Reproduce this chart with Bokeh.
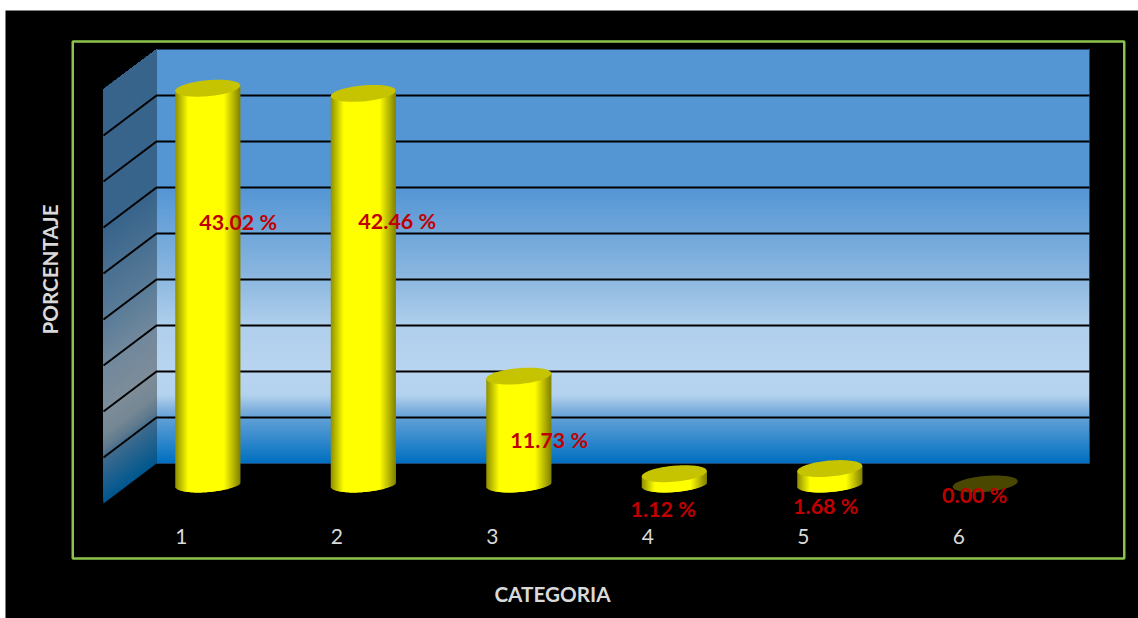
import numpy as np
from bokeh.embed import file_html
from bokeh.models import FixedTicker, LinearAxis, Range1d
from bokeh.plotting import figure
from bokeh.resources import INLINE

categories = [1, 2, 3, 4, 5, 6]
percentages = [43.02, 42.46, 11.73, 1.12, 1.68, 0.00]
wall_ticks = [5, 10, 15, 20, 25, 30, 35, 40]
wall_top = 45

x_title = "CATEGORIA"
y_title = "PORCENTAJE"

# Pixel scale of the projection and the oblique depth of the floor
PX_PER_CAT = 155.5
PX_PER_PCT = 9.2
DEPTH_X = 53 / PX_PER_CAT
DEPTH_Y = 40 / PX_PER_PCT
FLOOR_LEFT, FLOOR_RIGHT = 0.5, 6.5

# Cylinder shape, in pixels: half width, ellipse half height, shear of the ellipse
CYL_A, CYL_B, CYL_SHEAR = 32.5, 8.0, 0.085

# Label offsets from the top centre of each cylinder, in pixels
label_dx = [30.5, 34, 30.5, -11, -4, -10.5]
label_dy = [134, 128, 64.4, 35, 37.5, 10.5]

# Colour ramps, by height on the wall measured in percent
wall_stops = [0, 4.7, 5.8, 7.4, 9.9, 14.9, 19.9, 29.7, 45]
wall_ramp = ["#0070C0", "#5E9ED6", "#80B0DD", "#B4D2EE", "#B8D4F0", "#B0CFEC", "#8DB8E0", "#5596D4", "#5596D4"]
side_ramp = ["#00588F", "#3E6B8E", "#5F7A8E", "#768894", "#7E8D9A", "#72899D", "#5A7C98", "#39658C", "#39658C"]

# Body shading across a cylinder, from -1 (left edge) to +1 (right edge)
body_stops = [-1, -0.6, 0.5, 1]
body_ramp = ["#8F8F00", "#FFFF00", "#FFFF00", "#808000"]


def rgb(hex_code):
    return np.array([int(hex_code[i:i + 2], 16) for i in (1, 3, 5)], dtype=float)


def ramp(pos, stops, colours):
    table = np.array([rgb(c) for c in colours])
    channels = [int(round(np.interp(pos, stops, table[:, k]))) for k in range(3)]
    return "#%02X%02X%02X" % tuple(channels)


def page_x(px):
    return 1 + (px - 181) / PX_PER_CAT


def page_y(py):
    return (503 - py) / PX_PER_PCT


p = figure(
    width=1138, height=618,
    x_range=Range1d(page_x(5.25), page_x(1138.25)),
    y_range=Range1d(page_y(618), page_y(10)),
    output_backend="svg", toolbar_location=None,
    x_axis_type=None, y_axis_type=None,
    min_border_left=5, min_border_top=10, min_border_right=0, min_border_bottom=0,
    background_fill_color="#000000", border_fill_color="#FFFFFF",
)
p.outline_line_color = None
p.grid.visible = False

# Chart area border
p.quad(left=[page_x(72.5)], right=[page_x(1124)], top=[page_y(41)], bottom=[page_y(558)],
       fill_color=None, line_color="#8CC34A", line_width=2.5)

# Back wall: bands painted bottom-up, each running to the top so no seams show
levels = np.arange(0, wall_top, 1 / PX_PER_PCT)
back_left = FLOOR_LEFT + DEPTH_X
back_right = FLOOR_RIGHT + DEPTH_X
p.quad(left=back_left, right=back_right,
       bottom=list(levels + DEPTH_Y), top=wall_top + DEPTH_Y,
       fill_color=[ramp(v, wall_stops, wall_ramp) for v in levels],
       line_color=None)
p.quad(left=[back_left], right=[back_right], bottom=[DEPTH_Y], top=[wall_top + DEPTH_Y],
       fill_color=None, line_color="#23456E", line_width=1)

# Side wall, sheared with the depth of the floor
p.patches(
    xs=[[FLOOR_LEFT, back_left, back_left, FLOOR_LEFT] for _ in levels],
    ys=[[v, v + DEPTH_Y, wall_top + DEPTH_Y, wall_top] for v in levels],
    fill_color=[ramp(v, wall_stops, side_ramp) for v in levels],
    line_color=None,
)

# Gridlines across both walls
for tick in wall_ticks:
    p.line([FLOOR_LEFT, back_left, back_right],
           [tick, tick + DEPTH_Y, tick + DEPTH_Y],
           line_color="#000000", line_width=2)

# Cylinders stand halfway along the depth of the floor
offsets = np.linspace(-CYL_A, CYL_A, 66)
step = offsets[1] - offsets[0]
mid = (offsets[:-1] + offsets[1:]) / 2
body_colours = [ramp(d / CYL_A, body_stops, body_ramp) for d in mid]
arc = CYL_B * np.sqrt(np.clip(1 - (mid / CYL_A) ** 2, 0, 1))
angles = np.linspace(0, 2 * np.pi, 80)
base_level = 19.5 / PX_PER_PCT

for cat, pct in zip(categories, percentages):
    centre = cat + DEPTH_X / 2
    tilt = mid * CYL_SHEAR
    if pct > 0:
        # Each strip overlaps its right-hand neighbour to keep the shading continuous
        strip_right = np.minimum(mid + step / 2 + 1.5, CYL_A)
        p.quad(left=list(centre + (mid - step / 2) / PX_PER_CAT),
               right=list(centre + strip_right / PX_PER_CAT),
               bottom=list(base_level + (tilt - arc) / PX_PER_PCT),
               top=list(base_level + pct + tilt / PX_PER_PCT),
               fill_color=body_colours, line_color=None)
    cap_x = CYL_A * np.cos(angles)
    cap_y = cap_x * CYL_SHEAR + CYL_B * np.sin(angles)
    p.patch(list(centre + cap_x / PX_PER_CAT),
            list(base_level + pct + cap_y / PX_PER_PCT),
            fill_color="#C6C300" if pct > 0 else "#4A4800", line_color=None)

# Value labels
p.text(
    x=[c + DEPTH_X / 2 for c in categories],
    y=[v + base_level for v in percentages],
    text=[f"{v:.2f} %" for v in percentages],
    x_offset=label_dx, y_offset=label_dy,
    text_color="#C00000", text_font_size="21.5px", text_font_style="bold",
    text_font={"value": "Lato"}, text_align="center", text_baseline="middle",
)

# Axes sit inside the black panel, so they are pinned to a data position
x_axis = LinearAxis(
    ticker=FixedTicker(ticks=categories),
    fixed_location=page_y(519),
    bounds=(page_x(138), page_x(966)),
    axis_label=x_title,
)
y_axis = LinearAxis(
    ticker=FixedTicker(ticks=[]),
    fixed_location=page_x(61),
    bounds=(page_y(504), page_y(34)),
    axis_label=y_title,
)
for axis in (x_axis, y_axis):
    axis.axis_line_color = None
    axis.major_tick_line_color = None
    axis.minor_tick_line_color = None
    axis.major_label_text_color = "#D9D9D9"
    axis.major_label_text_font = "Lato"
    axis.major_label_text_font_size = "21px"
    axis.axis_label_text_color = "#D9D9D9"
    axis.axis_label_text_font = "Lato"
    axis.axis_label_text_font_size = "20.7px"
    axis.axis_label_text_font_style = "bold"
x_axis.major_label_standoff = 3
x_axis.axis_label_standoff = 35
y_axis.axis_label_standoff = 0
p.add_layout(x_axis, "below")
p.add_layout(y_axis, "left")

open("out.html", "w").write(file_html(p, INLINE))
